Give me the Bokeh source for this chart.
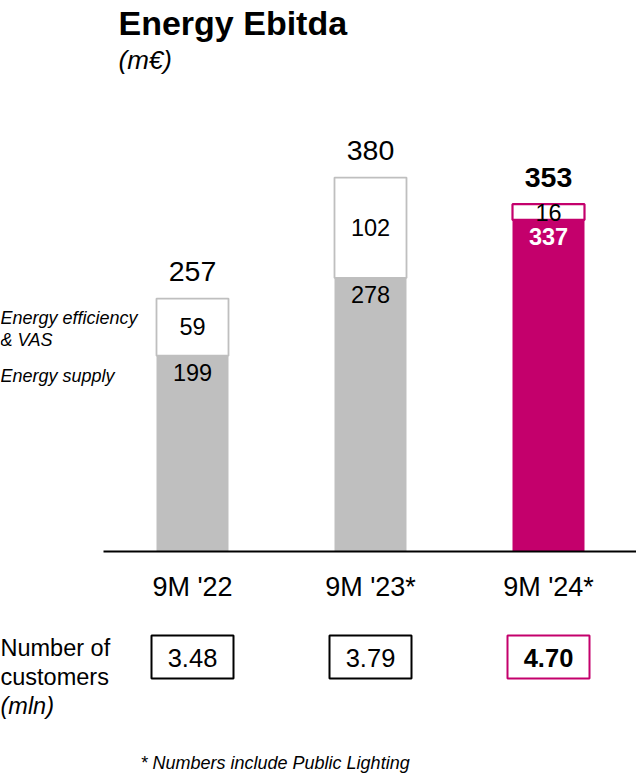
from bokeh.plotting import figure
from bokeh.models import Range1d, ColumnDataSource
from bokeh.core.properties import value
from bokeh.embed import file_html
from bokeh.resources import INLINE

# ---- data ----
periods = ["9M '22", "9M '23*", "9M '24*"]
energy_supply = [199, 278, 337]
efficiency_vas = [59, 102, 16]
totals = [257, 380, 353]
customers = ["3.48", "3.79", "4.70"]

GREY = "#bfbfbf"
MAGENTA = "#c4006c"
FONT = "Liberation Sans"

W, H = 636, 774
BASE = 551          # baseline, px from top
PX = 0.984          # px per m€
X0, STEP = 192, 178 # first category centre and spacing, px


def ys(py):
    """screen px (from top) -> data y"""
    return (BASE - py) / PX


def xs(px):
    """screen px (from left) -> data x"""
    return (px - X0) / STEP


p = figure(width=W, height=H,
           x_range=Range1d(xs(0), xs(W)), y_range=Range1d(ys(H), ys(0)),
           output_backend="svg", toolbar_location=None,
           x_axis_location=None, y_axis_location=None,
           min_border=0, outline_line_color=None)
p.xgrid.visible = False
p.ygrid.visible = False
p.background_fill_color = "white"
p.border_fill_color = "white"

idx = list(range(len(periods)))
bottom_src = ColumnDataSource(dict(
    x=idx, top=energy_supply,
    color=[GREY, GREY, MAGENTA]))
top_src = ColumnDataSource(dict(
    x=idx, bottom=energy_supply, top=totals,
    line=[GREY, GREY, MAGENTA], lw=[1.8, 1.8, 2.2]))

bw = 72 / STEP
p.vbar(x="x", top="top", bottom=0, width=bw, source=bottom_src,
       fill_color="color", line_color=None)
p.vbar(x="x", top="top", bottom="bottom", width=bw, source=top_src,
       fill_color="white", line_color="line", line_width="lw")

# baseline
p.segment(x0=[-0.5], y0=[0], x1=[xs(W)], y1=[0], line_color="black", line_width=2)


def txt(x, y, s, size, color="black", style="normal", align="center"):
    p.text(x=x, y=y, text=s, text_font=value(FONT), text_font_size=f"{size}px",
           text_color=color, text_font_style=style,
           text_align=align, text_baseline="middle")


# totals above bars
tot_styles = ["normal", "normal", "bold"]
for i, t in enumerate(totals):
    txt([i], [t + 27 / PX], [str(t)], 28.5, style=tot_styles[i])

# efficiency & VAS values (centred in segment)
for i in idx:
    mid = energy_supply[i] + efficiency_vas[i] / 2
    txt([i], [mid], [str(efficiency_vas[i])], 23.5)

# energy supply values (just below boundary)
sup_colors = ["black", "black", "white"]
sup_styles = ["normal", "normal", "bold"]
for i in idx:
    txt([i], [energy_supply[i] - 17 / PX], [str(energy_supply[i])], 23.5,
        color=sup_colors[i], style=sup_styles[i])

# category labels
for i, c in enumerate(periods):
    txt([i], [ys(586)], [c], 27)

# customers boxes
p.rect(x=idx, y=[ys(656.5)] * 3, width=82 / STEP, height=43,
       height_units="screen", fill_color="white",
       line_color=["black", "black", MAGENTA], line_width=2)
cust_styles = ["normal", "normal", "bold"]
for i, c in enumerate(customers):
    txt([i], [ys(657)], [c], 25.5, style=cust_styles[i])

# side labels
txt([xs(0)], [ys(317)], ["Energy efficiency"], 18, style="italic", align="left")
txt([xs(0)], [ys(339)], ["& VAS"], 18, style="italic", align="left")
txt([xs(0)], [ys(375)], ["Energy supply"], 18, style="italic", align="left")

txt([xs(0)], [ys(647)], ["Number of"], 23.5, align="left")
txt([xs(0)], [ys(676)], ["customers"], 23.5, align="left")
txt([xs(0)], [ys(705)], ["(mln)"], 23.5, style="italic", align="left")

# title block
txt([xs(118)], [ys(22)], ["Energy Ebitda"], 34, style="bold", align="left")
txt([xs(118)], [ys(59)], ["(m€)"], 26, style="italic", align="left")

# footnote
txt([xs(140)], [ys(762)], ["* Numbers include Public Lighting"], 18,
    style="italic", align="left")

open("out.html", "w").write(file_html(p, INLINE))
